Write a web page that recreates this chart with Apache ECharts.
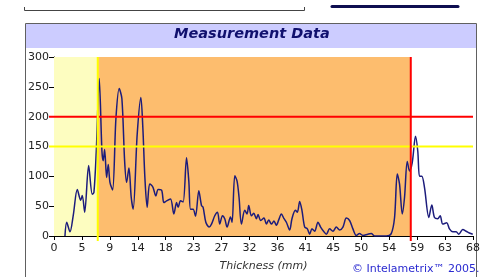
<!DOCTYPE html>
<html>
<head>
<meta charset="utf-8">
<script src="https://cdn.jsdelivr.net/npm/echarts@6/dist/echarts.min.js"></script>
<style>
    html, body { margin: 0; padding: 0; background: #fff; }
    #chart { width: 483px; height: 277px; }
</style>
</head>
<body>
<div id="chart"></div>
<script>
// thickness (mm) and signal
const thickness = [
    1.78, 2.06, 2.59, 3.13, 3.78, 4.33, 4.59, 4.98, 5.62, 6.21, 6.48, 6.86, 7.34, 7.78, 7.99, 8.22,
    8.54, 8.80, 9.08, 9.51, 10.05, 10.58, 11.02, 11.46, 11.78, 12.16, 12.53, 12.85, 13.50, 14.10, 14.42, 14.75,
    15.12, 15.51, 15.83, 16.09, 16.53, 16.90, 17.46, 17.83, 18.27, 18.91, 19.45, 19.89, 20.15, 20.53, 20.96, 21.51,
    21.88, 22.16, 22.58, 22.97, 23.50, 23.94, 24.20, 24.64, 25.17, 25.56, 26.09, 26.53, 26.90, 27.34, 27.71, 28.09,
    28.64, 28.90, 29.34, 29.71, 30.03, 30.42, 30.96, 31.33, 31.60, 32.04, 32.41, 32.85, 33.11, 33.55, 34.08, 34.47,
    34.85, 35.28, 35.70, 36.09, 36.47, 36.90, 37.33, 37.71, 38.25, 38.62, 39.17, 39.50, 39.87, 40.24, 40.68, 41.12,
    41.49, 41.86, 42.30, 42.84, 43.27, 43.81, 44.20, 44.73, 45.27, 45.82, 46.35, 46.89, 47.44, 47.97, 48.51, 49.06,
    49.59, 50.13, 50.94, 51.49, 52.03, 53.92, 54.73, 55.27, 55.71, 56.08, 56.52, 56.89, 57.33, 57.70, 58.14, 58.67,
    59.04, 59.32, 59.69, 60.13, 60.83, 61.31, 61.75, 62.28, 62.67, 63.10, 63.74, 64.18, 64.72, 65.27, 65.69, 66.34,
    66.89, 67.42, 67.96
];
const amplitude = [
    0, 23, 7, 35, 78, 60, 68, 40, 118, 70, 73, 142, 264, 142, 126, 145,
    98, 120, 90, 77, 197, 247, 230, 126, 90, 114, 65, 45, 170, 232, 181, 98,
    48, 87, 85, 81, 67, 78, 77, 56, 59, 62, 37, 56, 48, 59, 57, 131,
    92, 45, 45, 33, 76, 51, 48, 23, 15, 20, 34, 40, 20, 34, 29, 15,
    32, 23, 101, 92, 65, 20, 43, 37, 51, 34, 38, 29, 36, 26, 30, 20,
    27, 20, 25, 18, 27, 37, 29, 23, 10, 29, 43, 40, 58, 43, 15, 12,
    3, 12, 8, 23, 15, 7, 3, 12, 8, 15, 10, 15, 30, 26, 12, 1,
    4, 1, 3, 4, 0, 0, 4, 31, 104, 87, 37, 65, 125, 109, 123, 167,
    142, 100, 100, 81, 31, 52, 31, 29, 34, 20, 22, 12, 7, 7, 3, 11,
    8, 5, 3
];
const yTicks = [0, 50, 100, 150, 200, 250, 300];
const gates = [7.1, 57.9];        // min / max thickness
const gateColors = ["#ffff00", "#ff0000"];
const limits = [150, 200];        // amplitude thresholds
const limitColors = ["#ffff00", "#ff0000"];

const points = thickness.map((t, i) => [t, amplitude[i]]);
const font = "DejaVu Sans";
const xMax = 68;
const yMax = yTicks[yTicks.length - 1];

const chart = echarts.init(document.getElementById("chart"), null, { renderer: "canvas" });

// horizontal limits stick out a little left of the y axis, gates a little below the x axis
function renderLimit(params, api) {
    const v = api.value(1);
    const a = api.coord([0, v]);
    const b = api.coord([xMax, v]);
    return {
        type: "line",
        shape: { x1: a[0] - 5, y1: a[1], x2: b[0], y2: b[1] },
        style: { stroke: limitColors[params.dataIndex], lineWidth: 2 },
    };
}
function renderGate(params, api) {
    const v = api.value(0);
    const a = api.coord([v, 0]);
    const b = api.coord([v, yMax]);
    return {
        type: "line",
        shape: { x1: a[0], y1: a[1] + 5, x2: b[0], y2: b[1] },
        style: { stroke: gateColors[params.dataIndex], lineWidth: 2 },
    };
}

const option = {
    backgroundColor: "#ffffff",
    animation: false,
    grid: { left: 54, right: 9.5, top: 57, bottom: 38 },
    xAxis: {
        type: "value",
        min: 0,
        max: xMax,
        interval: xMax / 15,
        name: "Thickness (mm)",
        nameLocation: "middle",
        nameGap: 25,
        nameTextStyle: { fontFamily: font, fontSize: 11, fontStyle: "italic", color: "#333" },
        splitLine: { show: false },
        axisLine: { lineStyle: { color: "#000", width: 1 } },
        axisTick: { length: 4, lineStyle: { color: "#000" } },
        axisLabel: {
            fontFamily: font, fontSize: 11, color: "#222", margin: 7,
            showMaxLabel: true,
            formatter: (v) => String(Math.round(v)),
        },
    },
    yAxis: {
        type: "value",
        min: yTicks[0],
        max: yMax,
        interval: yTicks[1] - yTicks[0],
        splitLine: { show: false },
        axisLine: { show: true, lineStyle: { color: "#000", width: 1 } },
        axisTick: { show: true, length: 5, lineStyle: { color: "#000" } },
        axisLabel: { fontFamily: font, fontSize: 11, color: "#222", margin: 5 },
    },
    series: [
        {
            // shaded zones
            type: "line",
            data: [],
            z: 1,
            silent: true,
            markArea: {
                silent: true,
                label: { show: false },
                data: [
                    [{ coord: [0, 0], itemStyle: { color: "#fdfdc0" } }, { coord: [gates[0], yMax] }],
                    [{ coord: [gates[0], 0], itemStyle: { color: "#fdbd6e" } }, { coord: [gates[1], yMax] }],
                ],
            },
        },
        {
            type: "line",
            data: points,
            z: 2,
            smooth: 0.3,
            showSymbol: false,
            lineStyle: { color: "#1c1c7c", width: 1.5 },
        },
        {
            type: "custom",
            z: 3,
            silent: true,
            clip: false,
            data: limits.map((v) => [0, v]),
            renderItem: renderLimit,
        },
        {
            type: "custom",
            z: 3,
            silent: true,
            clip: false,
            data: gates.map((v) => [v, 0]),
            renderItem: renderGate,
        },
    ],
    graphic: [
        // bits of the page above the panel
        { type: "line", shape: { x1: 24.5, y1: 10.5, x2: 304.5, y2: 10.5 }, style: { stroke: "#444", lineWidth: 1 } },
        { type: "line", shape: { x1: 24.5, y1: 7, x2: 24.5, y2: 10.5 }, style: { stroke: "#444", lineWidth: 1 } },
        { type: "line", shape: { x1: 304.5, y1: 7, x2: 304.5, y2: 10.5 }, style: { stroke: "#444", lineWidth: 1 } },
        { type: "line", shape: { x1: 332, y1: 6.5, x2: 458, y2: 6.5 }, style: { stroke: "#0e0e50", lineWidth: 3, lineCap: "round" } },
        // panel frame and title band
        { type: "rect", z: -1, shape: { x: 25.5, y: 23.5, width: 451, height: 270 }, style: { fill: "#fff", stroke: "#606060", lineWidth: 1 } },
        { type: "rect", z: 0, shape: { x: 26, y: 24, width: 450, height: 24 }, style: { fill: "#ccccff" } },
        {
            type: "text", left: 174, top: 27,
            style: { text: "Measurement Data", fontFamily: font, fontSize: 14.5, fontWeight: "bold", fontStyle: "italic", fill: "#10106e" },
        },
        {
            type: "text", left: 352, top: 264,
            style: { text: "© Intelametrix™ 2005.", fontFamily: font, fontSize: 11, fill: "#2a2ad0" },
        },
    ],
};

chart.setOption(option);
</script>
</body>
</html>
